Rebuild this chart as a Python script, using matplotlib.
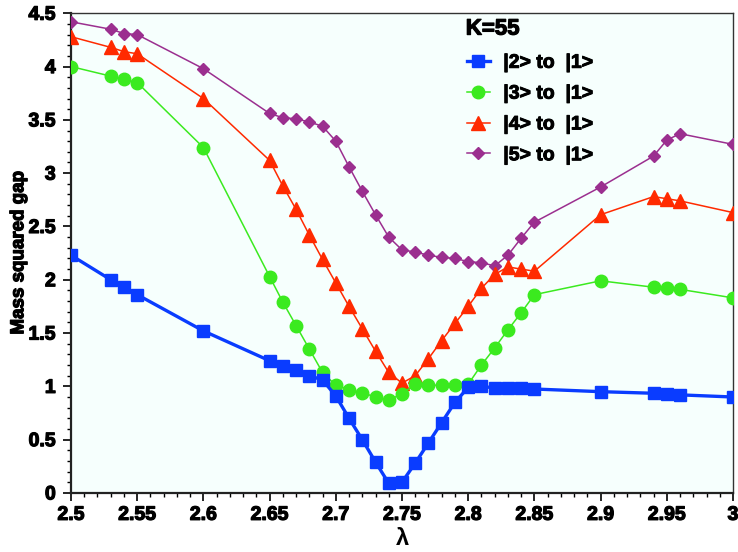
import matplotlib
matplotlib.use("Agg")
import matplotlib.pyplot as plt
import matplotlib.patheffects as pe
from matplotlib.ticker import MultipleLocator

# lambda values
lam = [2.5, 2.53, 2.54, 2.55, 2.6, 2.65, 2.66, 2.67, 2.68, 2.69, 2.70, 2.71, 2.72,
       2.73, 2.74, 2.75, 2.76, 2.77, 2.78, 2.79, 2.80, 2.81, 2.82, 2.83, 2.84,
       2.85, 2.9, 2.94, 2.95, 2.96, 3.0]

gap2 = [2.23, 2.00, 1.93, 1.86, 1.52, 1.24, 1.19, 1.15, 1.10, 1.06, 0.91, 0.70, 0.50,
        0.29, 0.09, 0.10, 0.28, 0.47, 0.66, 0.85, 0.99, 1.00, 0.985, 0.98, 0.98,
        0.975, 0.95, 0.935, 0.93, 0.92, 0.90]
gap3 = [4.00, 3.91, 3.88, 3.85, 3.24, 2.03, 1.79, 1.57, 1.35, 1.13, 1.01, 0.97, 0.94,
        0.90, 0.87, 0.93, 1.02, 1.01, 1.01, 1.01, 1.02, 1.20, 1.36, 1.53, 1.69,
        1.86, 1.99, 1.93, 1.92, 1.91, 1.83]
gap4 = [4.28, 4.18, 4.14, 4.12, 3.70, 3.12, 2.88, 2.66, 2.42, 2.19, 1.97, 1.75, 1.54,
        1.33, 1.13, 1.03, 1.10, 1.26, 1.43, 1.59, 1.75, 1.92, 2.05, 2.12, 2.10,
        2.08, 2.61, 2.78, 2.76, 2.74, 2.63]
gap5 = [4.42, 4.35, 4.31, 4.30, 3.98, 3.56, 3.52, 3.51, 3.48, 3.44, 3.30, 3.06, 2.83,
        2.61, 2.40, 2.28, 2.26, 2.23, 2.21, 2.20, 2.17, 2.16, 2.13, 2.23, 2.39,
        2.54, 2.87, 3.16, 3.31, 3.37, 3.27]

labels = ["|2> to  |1>", "|3> to  |1>", "|4> to  |1>", "|5> to  |1>"]
xtick_vals = [2.5, 2.55, 2.6, 2.65, 2.7, 2.75, 2.8, 2.85, 2.9, 2.95, 3.0]
xtick_text = ["2.5", "2.55", "2.6", "2.65", "2.7", "2.75", "2.8", "2.85", "2.9", "2.95", "3"]
ytick_vals = [0, 0.5, 1, 1.5, 2, 2.5, 3, 3.5, 4, 4.5]
ytick_text = ["0", "0.5", "1", "1.5", "2", "2.5", "3", "3.5", "4", "4.5"]

plt.rcParams["font.family"] = ["Liberation Sans", "DejaVu Sans"]
plt.rcParams["font.weight"] = "bold"

# a thin outline in the text colour makes the bold face look heavier
heavy = [pe.withStroke(linewidth=0.9, foreground="black")]

fig = plt.figure(figsize=(7.38, 5.52), dpi=100)
ax = fig.add_axes([0.0962, 0.107, 0.897, 0.869])
ax.set_facecolor("#f6fffd")

ax.plot(lam, gap2, color="#0a3cff", linewidth=2.4, marker="s", markersize=8.5, label=labels[0], zorder=6)
ax.plot(lam, gap3, color="#3bea1f", linewidth=1.1, marker="o", markersize=9, label=labels[1], zorder=5)
ax.plot(lam, gap4, color="#ff2a00", linewidth=1.1, marker="^", markersize=9.5, label=labels[2], zorder=4)
ax.plot(lam, gap5, color="#9b2f8f", linewidth=1.1, marker="D", markersize=6, label=labels[3], zorder=3)

ax.set_xlim(2.5, 3.0)
ax.set_ylim(0, 4.5)
ax.xaxis.set_minor_locator(MultipleLocator(0.01))
ax.yaxis.set_minor_locator(MultipleLocator(0.1))
ax.set_xticks(xtick_vals)
ax.set_xticklabels(xtick_text)
ax.set_yticks(ytick_vals)
ax.set_yticklabels(ytick_text)
ax.tick_params(axis="both", which="major", direction="out", length=6, width=1.2,
               labelsize=14, top=False, right=False, pad=4)
ax.tick_params(axis="y", which="major", pad=5)
ax.tick_params(axis="both", which="minor", direction="out", length=3, width=1.0,
               top=False, right=False)
for lbl in ax.get_xticklabels() + ax.get_yticklabels():
    lbl.set_fontweight("bold")
    lbl.set_path_effects(heavy)

for side in ["left", "bottom"]:
    ax.spines[side].set_linewidth(1.6)
    ax.spines[side].set_color("#222222")
for side in ["top", "right"]:
    ax.spines[side].set_linewidth(1.0)
    ax.spines[side].set_color("#333333")

ylab = ax.set_ylabel("Mass squared gap", fontsize=13.5, fontweight="bold")
ylab.set_path_effects(heavy)
ax.yaxis.set_label_coords(-0.066, 0.5)
ax.set_xlabel("λ", fontsize=17, fontweight="bold", labelpad=2)

kt = ax.text(0.637, 0.967, "K=55", transform=ax.transAxes, ha="center", va="center",
             fontsize=16, fontweight="bold")
kt.set_path_effects(heavy)
leg = ax.legend(loc="upper left", bbox_to_anchor=(0.584, 0.935), frameon=False,
                borderpad=0, handlelength=1.15, handletextpad=0.7, labelspacing=0.68,
                prop={"size": 14, "weight": "bold"})
for t in leg.get_texts():
    t.set_path_effects([pe.withStroke(linewidth=0.7, foreground="black")])

fig.savefig("out.png", dpi=100, facecolor="white")
